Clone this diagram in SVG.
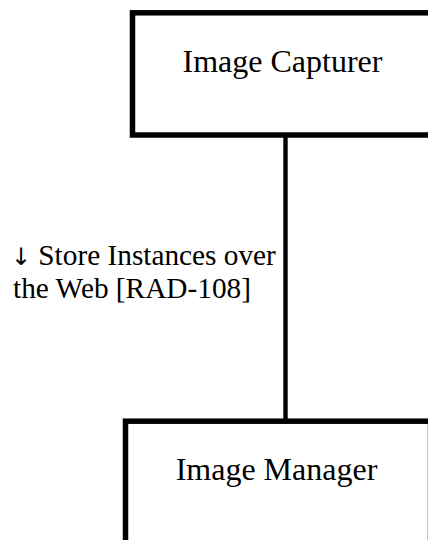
<svg xmlns="http://www.w3.org/2000/svg" width="428" height="540" viewBox="0 0 428 540">
<style>
.box{fill:#fff;stroke:#000;stroke-width:5.5}
.lbl{font-family:"Liberation Serif","Times New Roman",serif;font-size:32px;fill:#000;text-anchor:middle}
.elbl{font-family:"Liberation Serif","Times New Roman",serif;font-size:29.3px;fill:#000}
.arr{font-family:"DejaVu Sans",sans-serif;font-size:24px}
.edge{stroke:#000;stroke-width:4.4;fill:none}
</style>
<rect width="428" height="540" fill="#fff"/>
<g id="connectors">
<line class="edge" x1="285.5" y1="137" x2="285.5" y2="419"/>
<text class="elbl" x="11" y="265"><tspan class="arr">↓</tspan><tspan x="31"> Store Instances over</tspan></text>
<text class="elbl" x="13" y="298">the Web [RAD-108]</text>
</g>
<g id="image-capturer">
<rect class="box" x="132.5" y="12.8" width="305" height="122.2"/>
<text class="lbl" x="282.5" y="72">Image Capturer</text>
</g>
<g id="image-manager">
<rect class="box" x="125.5" y="421.2" width="305" height="160"/>
<text class="lbl" x="276.5" y="480">Image Manager</text>
</g>
</svg>
